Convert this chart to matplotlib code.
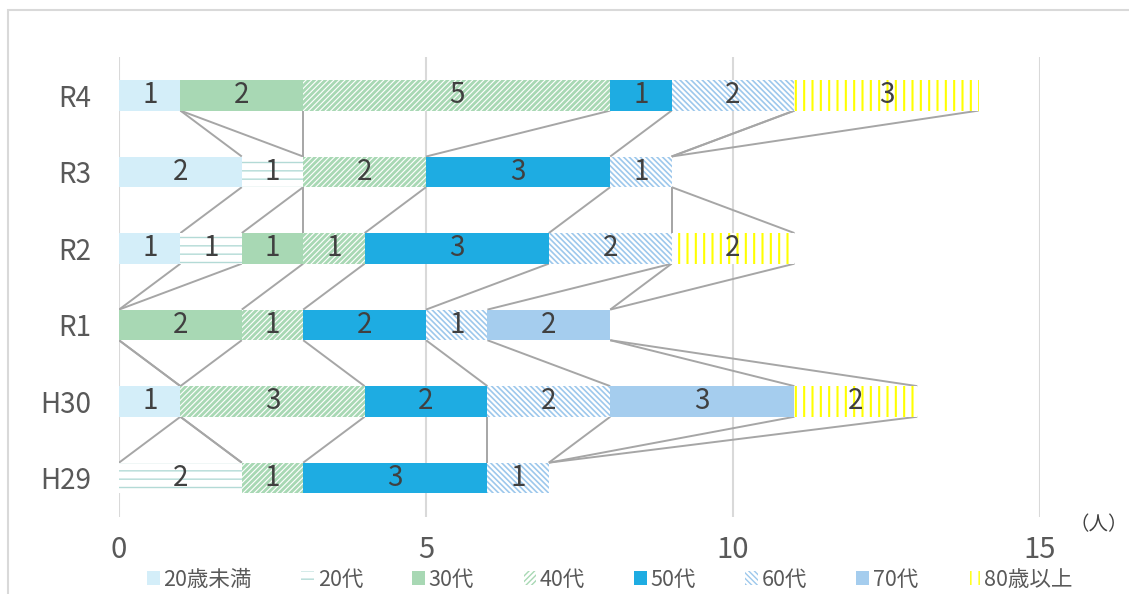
import numpy as np
import matplotlib.pyplot as plt
from matplotlib.patches import Rectangle, Patch

plt.rcParams['font.family'] = ['Noto Sans CJK JP', 'DejaVu Sans']

# categories bottom -> top
years = ['H29', 'H30', 'R1', 'R2', 'R3', 'R4']
groups = ['20歳未満', '20代', '30代', '40代', '50代', '60代', '70代', '80歳以上']
u20 = [0, 1, 0, 1, 2, 1]
a20 = [2, 0, 0, 1, 1, 0]
a30 = [0, 0, 2, 1, 0, 2]
a40 = [1, 3, 1, 1, 2, 5]
a50 = [3, 2, 2, 3, 3, 1]
a60 = [1, 2, 1, 2, 1, 2]
a70 = [0, 3, 2, 0, 0, 0]
o80 = [0, 2, 0, 2, 0, 3]
series = [u20, a20, a30, a40, a50, a60, a70, o80]

# (facecolor, hatch colour, hatch, hatch lw)
styles = [
    ('#D4EEF9', None, None, 0),
    ('white', '#B3DAD6', '--', 1.0),
    ('#A8D8B4', None, None, 0),
    ('white', '#A8D8B4', '//////', 2.0),
    ('#1EACE2', None, None, 0),
    ('white', '#9DC8EC', '\\\\\\\\\\\\', 1.2),
    ('#A5CDEE', None, None, 0),
    ('white', '#FFFF00', '||', 1.5),
]

fig = plt.figure(figsize=(11.29, 5.94), dpi=100)
ax = fig.add_axes([0.1054, 0.1296, 0.8158, 0.7744])

y = np.arange(len(years))
h = 0.40
data = np.array(series, dtype=float)
cum = np.cumsum(data, axis=0)
left = np.vstack([np.zeros(len(years)), cum[:-1]])

handles = []
for k, (fc, hc, hatch, hlw) in enumerate(styles):
    if hatch:
        bars = ax.barh(y, data[k], left=left[k], height=h, color=fc,
                       edgecolor=hc, linewidth=0, hatch=hatch, zorder=3)
        hp = Patch(facecolor=fc, edgecolor=hc, linewidth=0, hatch=hatch)
        for p in list(bars) + [hp]:
            if hasattr(p, 'set_hatch_linewidth'):
                p.set_hatch_linewidth(hlw)
        handles.append(hp)
    else:
        ax.barh(y, data[k], left=left[k], height=h, color=fc, linewidth=0, zorder=3)
        handles.append(Patch(facecolor=fc, linewidth=0))
    for i, v in enumerate(data[k]):
        if v > 0:
            ax.text(left[k][i] + v / 2, y[i], str(int(v)), ha='center', va='center',
                    fontsize=20, color='#404040', zorder=5)

# series lines between adjacent bars
for i in range(len(years) - 1):
    for k in range(len(series)):
        ax.plot([cum[k][i], cum[k][i + 1]], [y[i] + h / 2, y[i + 1] - h / 2],
                color='#A6A6A6', lw=1.4, zorder=2, solid_capstyle='butt')

ax.set_xlim(0, 15)
ax.set_ylim(-0.51, 5.5)
ax.set_xticks([0, 5, 10, 15])
ax.set_yticks(y)
ax.set_yticklabels(years)
ax.grid(axis='x', color='#D9D9D9', lw=1.5, zorder=0)
for s in ax.spines.values():
    s.set_visible(False)
ax.tick_params(length=0, labelcolor='#595959')
ax.tick_params(axis='x', labelsize=21, pad=13)
ax.tick_params(axis='y', labelsize=20, pad=20)

fig.text(0.999, 0.117, '（人）', fontsize=14, color='#404040', ha='right', va='center')

leg = fig.legend(handles, groups, loc='center', bbox_to_anchor=(0.54, 0.024), ncol=8,
                 frameon=False, fontsize=15.5, handlelength=0.6, handleheight=0.6,
                 handletextpad=0.15, columnspacing=2.3, labelcolor='#595959')

fig.patches.append(Rectangle((7.5 / 1129, -0.2), 1.2, 1.2 - 10 / 594,
                             transform=fig.transFigure, fill=False,
                             edgecolor='#D9D9D9', lw=1.5))

fig.savefig('out.png', dpi=100)
